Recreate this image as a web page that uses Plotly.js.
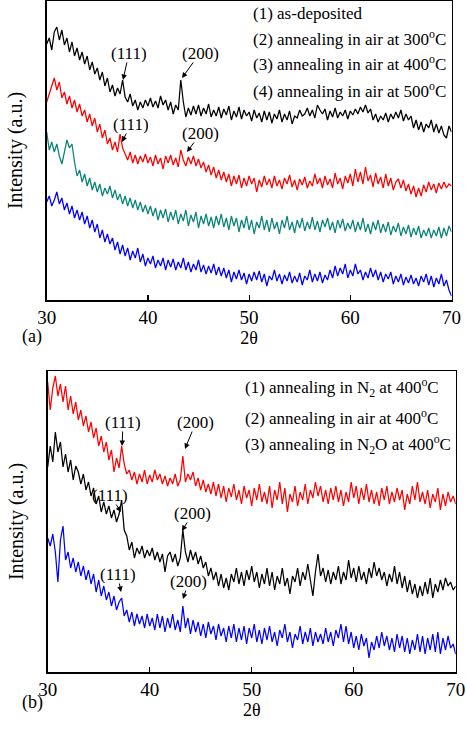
<!DOCTYPE html>
<html>
<head>
<meta charset="utf-8">
<script src="https://cdn.plot.ly/plotly-3.0.1.min.js"></script>
<style>html,body{margin:0;padding:0;background:#fff;}#chart{width:466px;height:739px;}</style>
</head>
<body>
<div id="chart"></div>
<script>
// ---- data (2θ scan, 0.25° steps, intensities in a.u. with stacking offsets) ----
const thetaStart = 30, thetaStep = 0.25, nPoints = 161;
const twoTheta = Array.from({length: nPoints}, (_, i) => thetaStart + thetaStep * i);
const xTickVals = [30, 40, 50, 60, 70];

// panel (a)
const asDeposited = [98,104,94,100,108,96,102,90, 97,86,94,82,90,80,88,76, 84,72,80,68,76,62,70,58, 66,56,62,50,58,46,55,44,
 52,40,49,42,52,38,46,34, 42,36,44,32,40,34,42,30, 40,33,41,30,38,32,42,30, 38,28,36,30,40,28,35,26,
 34,27,36,25,33,24,32,22, 30,18,28,21,30,20,27,16, 26,19,28,20,29,18,26,14, 24,20,30,19,26,16,25,19,
 28,17,24,18,27,15,24,20, 30,18,26,19,28,17,25,20, 30,22,34,24,32,26,36,22, 30,24,36,26,30,20,28,22,
 32,23,30,20,28,18,26,21, 28,16,24,18,26,15,23,17, 25,16,22,14,24,18,26,15, 24,13,22,16,26,14,20,10, 4];
const air300 = [168,150,158,148,156,144,136,150, 160,152,156,138,124,130,118,126, 114,122,110,118,108,116,104,112, 106,114,102,110,100,106,96,104,
 94,102,92,100,90,98,88,95, 86,94,84,92,80,90,82,91, 78,88,80,90,76,86,79,90, 74,85,78,88,72,84,76,86,
 74,83,72,84,75,86,73,82, 70,84,74,82,68,80,72,84, 70,80,66,78,72,84,70,80, 68,82,71,78,66,80,72,84,
 70,78,67,80,72,82,69,78, 71,83,70,79,68,80,73,82, 70,78,67,80,72,81,69,77, 71,80,68,78,70,82,68,76,
 66,78,70,80,67,76,68,78, 65,74,68,77,64,73,66,75, 63,72,65,74,62,70,64,72, 62,70,64,73,62,72,64,74, 68];
const air400 = [198,206,212,222,210,218,202,208, 196,204,192,200,188,196,184,190, 178,186,174,182,168,176,162,170, 156,162,150,158,148,166,152,146,
 140,148,137,145,136,144,138,146, 137,143,134,145,136,142,131,144, 137,145,135,142,133,150,140,134, 143,136,144,134,141,132,138,128,
 135,125,133,122,130,120,128,118, 126,114,124,116,125,112,122,114, 124,116,122,108,120,113,124,115, 121,112,124,114,120,111,122,116,
 125,113,120,110,121,115,123,112, 119,114,126,116,122,112,124,115, 121,112,127,116,122,111,124,117, 126,114,131,118,128,116,133,119,
 125,113,127,116,123,112,126,114, 122,110,118,121,112,120,109,116, 106,114,103,112,104,115,108,118, 110,116,107,117,111,118,112,116, 114];
const air500 = [256,262,250,268,273,260,270,255, 262,248,258,244,252,240,248,236, 244,230,238,226,232,220,228,214, 222,208,215,204,212,206,220,203,
 198,206,194,200,190,198,192,200, 194,202,193,199,192,204,195,200, 190,198,186,195,190,220,198,183, 192,185,194,186,195,184,192,186,
 196,183,190,184,193,182,191,185, 194,180,189,183,193,181,190,184, 188,179,190,182,187,178,189,180, 188,177,186,181,190,178,186,180,
 189,176,184,182,190,184,186,192, 184,190,182,195,190,186,191,180, 189,183,192,182,188,184,190,181, 189,185,191,186,193,188,195,187,
 191,180,186,178,184,180,187,178, 186,181,188,182,190,179,186,180, 184,172,180,170,178,168,176,172, 180,168,176,167,174,165,162,174, 168];

// panel (b)
const n2At400 = [134,126,138,120,90,132,146,112, 120,104,114,100,110,96,106,92, 102,88,98,80,92,76,86,72, 80,66,76,62,70,74,56,62,
 50,60,46,58,48,56,44,58, 46,54,42,58,44,56,40,54, 44,58,42,52,40,66,44,54, 38,52,40,50,36,48,34,50,
 38,46,32,48,36,44,30,46, 34,48,30,44,32,46,28,44, 34,48,30,42,28,44,32,46, 30,40,26,42,34,48,30,40,
 24,38,32,46,28,40,30,44, 26,40,30,38,28,44,30,40, 26,42,34,48,30,46,28,40, 24,36,22,38,26,34,14,30,
 22,36,24,40,26,36,22,34, 20,38,24,36,20,34,18,32, 22,38,20,36,18,34,22,38, 20,40,18,34,22,36,24,28, 18];
const airAt400 = [205,226,210,240,220,230,205,218, 200,212,192,206,200,188,198,182, 190,176,184,168,176,160,170,158, 166,154,162,150,158,172,142,136,
 122,130,114,124,118,126,114,122, 116,124,112,120,110,118,100,116, 120,110,118,106,114,142,120,110, 122,112,120,108,116,104,110,96,
 104,92,100,86,98,84,94,82, 98,90,104,88,100,86,102,92, 106,90,100,84,98,88,104,86, 100,82,96,88,104,86,94,78,
 96,90,104,86,100,92,108,94, 76,100,118,96,104,90,102,88, 100,92,106,88,100,92,112,94, 104,90,106,92,100,88,104,94,
 110,96,104,92,100,86,98,90, 106,88,100,84,96,80,92,78, 88,74,86,76,90,78,94,74, 88,80,92,82,94,86,90,82, 86];
const n2oAt400 = [290,262,284,296,276,288,270,286, 262,276,258,270,252,262,246,256, 240,250,234,244,226,236,220,230, 212,222,200,214,204,226,208,198,
 202,192,200,188,198,190,202,188, 197,190,202,192,198,188,196,186, 194,188,198,186,192,216,190,198, 192,200,186,194,182,192,180,188,
 178,190,176,188,174,186,170,184, 175,188,172,182,168,186,174,182, 166,184,172,188,170,180,168,186, 164,182,172,190,168,184,160,178,
 170,186,166,180,172,188,168,182, 174,190,176,186,170,182,168,184, 172,186,170,182,166,180,170,190, 174,186,168,184,172,188,170,182,
 168,180,166,184,172,186,168,180, 170,184,172,182,162,178,168,186, 172,190,170,180,168,182,164,178, 170,184,162,178,166,180,170,176, 168];

const legendA = ['(1) as-deposited', '(2) annealing in air at 300<sup>o</sup>C', '(3) annealing in air at 400<sup>o</sup>C', '(4) annealing in air at 500<sup>o</sup>C'];
const legendB = ['(1) annealing in N<sub>2</sub> at 400<sup>o</sup>C', '(2) annealing in air at 400<sup>o</sup>C', '(3) annealing in N<sub>2</sub>O at 400<sup>o</sup>C'];
const peakNames = ['(111)', '(200)'];

// ---- drawing ----
const FONT = 'Liberation Serif, Times New Roman, serif';
function line(y, color, xa, ya) {
  return {x: twoTheta, y: y, type: 'scatter', mode: 'lines', xaxis: xa, yaxis: ya,
          line: {color: color, width: 1.25}, hoverinfo: 'skip'};
}
const traces = [
  line(asDeposited, '#0000ff', 'x', 'y'),
  line(air300, '#0a8478', 'x', 'y'),
  line(air400, '#ff0000', 'x', 'y'),
  line(air500, '#000000', 'x', 'y'),
  line(n2At400, '#0000ff', 'x2', 'y2'),
  line(airAt400, '#000000', 'x2', 'y2'),
  line(n2oAt400, '#ff0000', 'x2', 'y2')
];

const ann = [];
function txt(xr, yr, x, y, t, size, xanchor) {
  ann.push({xref: xr, yref: yr, x: x, y: y, text: t, showarrow: false,
            xanchor: xanchor || 'center', yanchor: 'middle', font: {family: FONT, size: size, color: '#000'}});
}
// peak label with arrow: (x, y) = arrow tip in data units, (ax, ay) = label offset in px
function peak(xr, yr, x, y, ax, ay, t) {
  ann.push({xref: xr, yref: yr, x: x, y: y, text: t, showarrow: true, ax: ax, ay: ay,
            height: 18, borderpad: 0,
            arrowhead: 2, arrowsize: 1.1, arrowwidth: 1, arrowcolor: '#000', standoff: 0, startstandoff: 0,
            font: {family: FONT, size: 17, color: '#000'}});
}
// legends (text only)
const legAy = [286, 262, 237, 210];
legendA.forEach((t, i) => txt('x', 'y', 50.2, legAy[i], t, 17, 'left'));
const legBy = [285, 255, 228];
legendB.forEach((t, i) => txt('x2', 'y2', 49.1, legBy[i], t, 17, 'left'));
// curve numbers
[[187, '(4)'], [127, '(3)'], [83, '(2)'], [35, '(1)']].forEach(p => txt('x', 'y', 70.05, p[0], p[1], 16, 'right'));
[[190, '(3)'], [103, '(2)'], [46, '(1)']].forEach(p => txt('x2', 'y2', 70.05, p[0], p[1], 16, 'right'));
// peak labels panel (a)
peak('x', 'y', 37.54, 220, 6, -27, peakNames[0]);
peak('x', 'y', 43.37, 222, 18, -25, peakNames[1]);
peak('x', 'y', 37.44, 158, 9, -18, peakNames[0]);
peak('x', 'y', 43.86, 148, 14, -19, peakNames[1]);
// peak labels panel (b)
peak('x2', 'y2', 37.29, 226, 1, -24, peakNames[0]);
peak('x2', 'y2', 43.46, 223, 11, -27, peakNames[1]);
peak('x2', 'y2', 37.19, 160, -11, -17, peakNames[0]);
peak('x2', 'y2', 43.16, 141, 11, -18, peakNames[1]);
peak('x2', 'y2', 37.19, 80, -3.5, -18, peakNames[0]);
peak('x2', 'y2', 43.26, 73, 6, -18, peakNames[1]);
// panel tags
txt('paper', 'paper', 32 / 466, 1 - 337 / 739, '(a)', 18);
txt('paper', 'paper', 32 / 466, 1 - 702 / 739, '(b)', 18);

function xax(domain, anchor) {
  return {domain: domain, anchor: anchor, range: [30, 70], tickvals: xTickVals, ticktext: xTickVals.map(String),
          ticks: 'inside', ticklen: 5, tickwidth: 1.2, tickcolor: '#000',
          showline: true, mirror: true, linewidth: 1.5, linecolor: '#000', showgrid: false, zeroline: false,
          tickfont: {family: FONT, size: 19, color: '#000'},
          title: {text: '2θ', font: {family: FONT, size: 18, color: '#000'}, standoff: 3}};
}
function yax(domain, anchor, range) {
  return {domain: domain, anchor: anchor, range: range, showticklabels: false, ticks: '',
          showline: true, mirror: true, linewidth: 1.5, linecolor: '#000', showgrid: false, zeroline: false,
          title: {text: 'Intensity (a.u.)', font: {family: FONT, size: 20, color: '#000'}, standoff: 17}};
}
const layout = {
  width: 466, height: 739, margin: {l: 0, r: 0, t: 0, b: 0},
  paper_bgcolor: '#fff', plot_bgcolor: '#fff', showlegend: false,
  font: {family: FONT, color: '#000'},
  xaxis: xax([46.7 / 466, 451.5 / 466], 'y'),
  yaxis: yax([1 - 300 / 739, 1 - 1 / 739], 'x', [0, 299]),
  xaxis2: xax([47.7 / 466, 455.7 / 466], 'y2'),
  yaxis2: yax([1 - 672 / 739, 1 - 371 / 739], 'x2', [0, 301]),
  annotations: ann
};
Plotly.newPlot('chart', traces, layout, {staticPlot: true, displayModeBar: false});
</script>
</body>
</html>
